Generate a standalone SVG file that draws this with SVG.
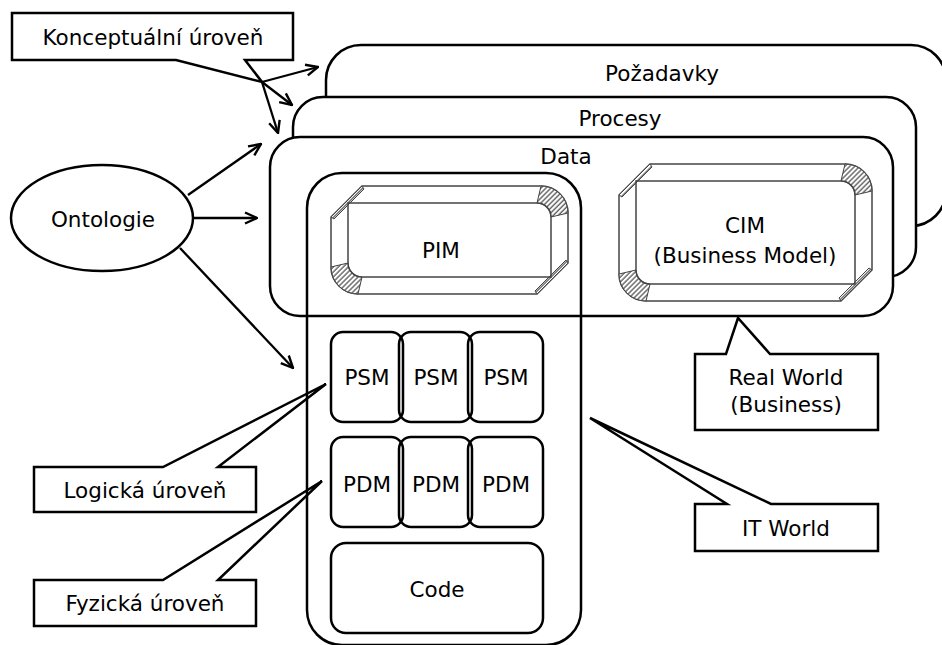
<svg xmlns="http://www.w3.org/2000/svg" width="942" height="645" viewBox="0 0 942 645">
<defs>
<pattern id="hatch" patternUnits="userSpaceOnUse" width="3.5" height="3.5" patternTransform="rotate(45)">
<rect x="0" y="0" width="3.5" height="3.5" fill="#fff"/>
<line x1="1" y1="0" x2="1" y2="3.5" stroke="#222" stroke-width="1"/>
</pattern>
<marker id="arr" viewBox="0 0 14 14" refX="13" refY="7" markerWidth="14" markerHeight="14" markerUnits="userSpaceOnUse" orient="auto">
<path d="M1,1.5 L13,7 L1,12.5" fill="none" stroke="#000" stroke-width="2.4"/>
</marker>
</defs>
<style>
.box{fill:#fff;stroke:#000;stroke-width:2.5}
.nf{fill:none;stroke:#000;stroke-width:2.5}
.bev{fill:#fff;stroke:#444;stroke-width:1.5}
.inner{fill:none;stroke:#444;stroke-width:1.5}
.hat{fill:url(#hatch);stroke:#444;stroke-width:1}
.t{font-family:"DejaVu Sans","Liberation Sans",sans-serif;font-size:21.5px;fill:#000;text-anchor:middle;dominant-baseline:central}
.con{fill:none;stroke:#000;stroke-width:2.3;marker-end:url(#arr)}
</style>

<g id="pozadavky">
<rect class="box" x="326" y="45" width="620" height="181" rx="35"/>
<text class="t" x="662" y="73">Požadavky</text>
</g>
<g id="procesy">
<rect class="box" x="293" y="97" width="623" height="180" rx="30"/>
<text class="t" x="620" y="118">Procesy</text>
</g>
<g id="data">
<rect class="box" x="270" y="137" width="623" height="179" rx="30"/>
<text class="t" x="566" y="156">Data</text>
</g>

<g id="pim">
<path class="bev" d="M362,186 L541,186 A27,27 0 0 1 568,213 L568,263 L537,294 L358,294 A27,27 0 0 1 331,267 L331,217 Z"/>
<path class="hat" d="M541,186 A27,27 0 0 1 568,213 L551,217 A14,14 0 0 0 537,203 Z"/>
<path class="hat" d="M358,294 A27,27 0 0 1 331,267 L348,263 A14,14 0 0 0 362,277 Z"/>
<path class="hat" d="M362,186 L331,217 L334,219 L364,189 Z"/>
<path class="hat" d="M568,263 L537,294 L535,291 L566,260 Z"/>
<path class="inner" d="M348,203 L537,203 A14,14 0 0 1 551,217 L551,277 L362,277 A14,14 0 0 1 348,263 Z"/>
<text class="t" x="441" y="250">PIM</text>
</g>

<g id="cim">
<path class="bev" d="M650,164 L845,164 A27,27 0 0 1 872,191 L872,270 L841,301 L646,301 A27,27 0 0 1 619,274 L619,195 Z"/>
<path class="hat" d="M845,164 A27,27 0 0 1 872,191 L855,195 A14,14 0 0 0 841,181 Z"/>
<path class="hat" d="M646,301 A27,27 0 0 1 619,274 L636,270 A14,14 0 0 0 650,284 Z"/>
<path class="hat" d="M650,164 L619,195 L622,197 L652,167 Z"/>
<path class="hat" d="M872,270 L841,301 L839,298 L869,268 Z"/>
<path class="inner" d="M636,181 L841,181 A14,14 0 0 1 855,195 L855,284 L650,284 A14,14 0 0 1 636,270 Z"/>
<text class="t" x="745" y="225">CIM</text>
<text class="t" x="745" y="255">(Business Model)</text>
</g>

<g id="ontologie">
<ellipse class="box" cx="102" cy="218" rx="91" ry="53"/>
<text class="t" x="103" y="219">Ontologie</text>
</g>

<g id="konceptualni">
<path class="box" d="M12,13 H293 V60 H245 L262,82 L176,60 H12 Z"/>
<text class="t" x="153" y="37">Konceptuální úroveň</text>
</g>
<g id="logicka">
<path class="box" d="M34,467 H163 L326,384 L218,467 H256 V512 H34 Z"/>
<text class="t" x="145" y="490">Logická úroveň</text>
</g>
<g id="fyzicka">
<path class="box" d="M34,580 H163 L322,481 L218,580 H256 V626 H34 Z"/>
<text class="t" x="145" y="603">Fyzická úroveň</text>
</g>
<g id="realworld">
<path class="box" d="M695,354 H726 L738,318 L770,354 H878 V430 H695 Z"/>
<text class="t" x="786" y="377">Real World</text>
<text class="t" x="786" y="404">(Business)</text>
</g>
<g id="itworld">
<path class="box" d="M695,504 H727 L590,418 L771,504 H878 V551 H695 Z"/>
<text class="t" x="786" y="528">IT World</text>
</g>

<g id="itcolumn">
<rect class="nf" x="307" y="173" width="274" height="472" rx="35"/>
</g>

<g id="psm1"><rect class="nf" x="331" y="332" width="72" height="90" rx="12"/><text class="t" x="367" y="377">PSM</text></g>
<g id="psm2"><rect class="nf" x="399" y="332" width="73" height="90" rx="12"/><text class="t" x="436" y="377">PSM</text></g>
<g id="psm3"><rect class="nf" x="468" y="332" width="75" height="90" rx="12"/><text class="t" x="506" y="377">PSM</text></g>
<g id="pdm1"><rect class="nf" x="331" y="437" width="72" height="90" rx="12"/><text class="t" x="367" y="484">PDM</text></g>
<g id="pdm2"><rect class="nf" x="399" y="437" width="73" height="90" rx="12"/><text class="t" x="436" y="484">PDM</text></g>
<g id="pdm3"><rect class="nf" x="468" y="437" width="75" height="90" rx="12"/><text class="t" x="506" y="484">PDM</text></g>
<g id="code"><rect class="nf" x="331" y="543" width="212" height="90" rx="15"/><text class="t" x="437" y="589">Code</text></g>

<g id="connectors">
<line class="con" x1="262" y1="82" x2="318" y2="67"/>
<line class="con" x1="262" y1="82" x2="292" y2="105"/>
<line class="con" x1="262" y1="82" x2="278" y2="133"/>
<line class="con" x1="188" y1="195" x2="261" y2="144"/>
<line class="con" x1="194" y1="218" x2="257" y2="218"/>
<line class="con" x1="180" y1="248" x2="293" y2="368"/>
</g>
</svg>
